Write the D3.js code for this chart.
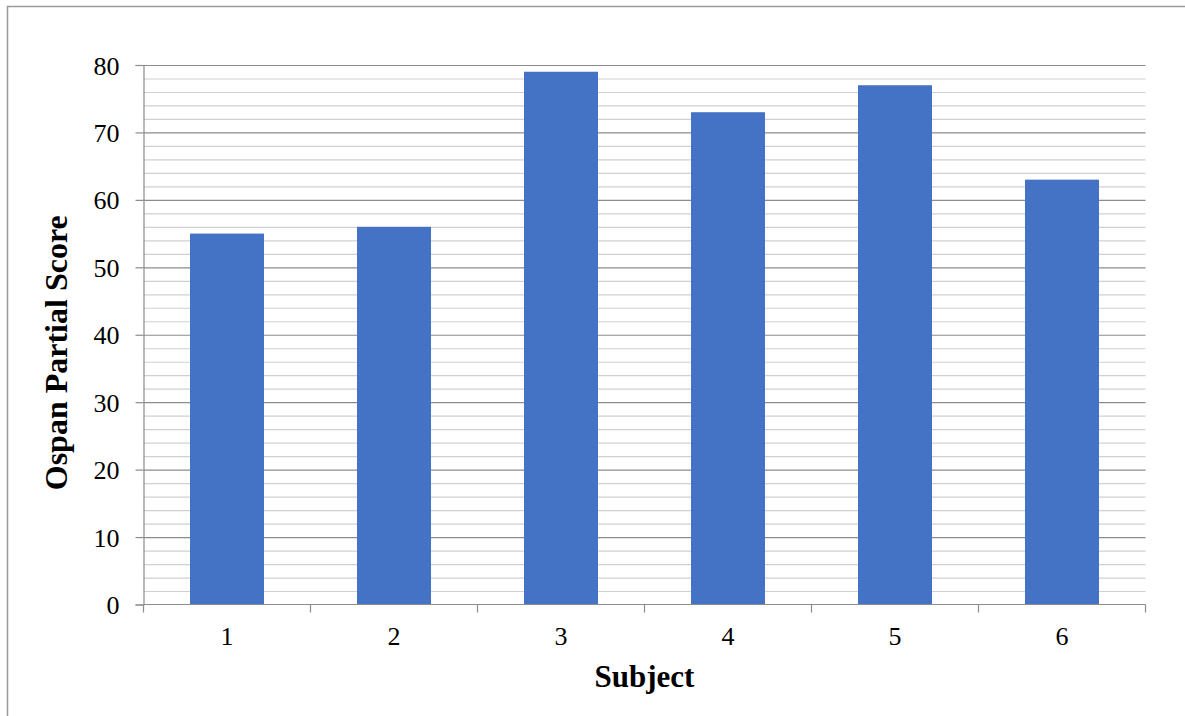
<!DOCTYPE html>
<html>
<head>
<meta charset="utf-8">
<script src="https://cdn.jsdelivr.net/npm/d3@7"></script>
<style>
  html, body { margin: 0; padding: 0; background: #fff; }
  svg { display: block; }
  text { font-family: "Liberation Serif", "Times New Roman", serif; fill: #000; }
</style>
</head>
<body>
<svg id="chart" width="1185" height="716"></svg>
<script>
const categories = ["1", "2", "3", "4", "5", "6"];
const values = [55, 56, 79, 73, 77, 63];
const majorTicks = [0, 10, 20, 30, 40, 50, 60, 70, 80];
const minorTicks = [2, 4, 6, 8, 12, 14, 16, 18, 22, 24, 26, 28, 32, 34, 36, 38, 42, 44, 46, 48, 52, 54, 56, 58, 62, 64, 66, 68, 72, 74, 76, 78];
const xTitle = "Subject";
const yTitle = "Ospan Partial Score";

const svg = d3.select("#chart");
const pLeft = 143.5, pRight = 1145.5, pTop = 65, pBottom = 604.5;

// outer frame
svg.append("rect").attr("x", 7.5).attr("y", 6.5).attr("width", 1200).attr("height", 720)
  .attr("fill", "none").attr("stroke", "#9a9a9a").attr("stroke-width", 1.5);

const x = d3.scaleBand().domain(categories).range([pLeft, pRight])
  .paddingInner(0.557).paddingOuter(0.2785);
const y = d3.scaleLinear().domain([0, 80]).range([pBottom, pTop]);

// minor gridlines
svg.append("g").attr("transform", `translate(${pLeft},0)`)
  .call(d3.axisLeft(y).tickValues(minorTicks).tickSize(-(pRight - pLeft)).tickFormat(""))
  .call(g => g.select(".domain").remove())
  .call(g => g.selectAll("line").attr("stroke", "#d0d0d0").attr("stroke-width", 1.2));

// major gridlines
svg.append("g").attr("transform", `translate(${pLeft},0)`)
  .call(d3.axisLeft(y).tickValues(majorTicks.filter(d => d > 0)).tickSize(-(pRight - pLeft)).tickFormat(""))
  .call(g => g.select(".domain").remove())
  .call(g => g.selectAll("line").attr("stroke", "#8c8c8c").attr("stroke-width", 1.2));

// bars
svg.append("g").selectAll("rect").data(values).join("rect")
  .attr("x", (d, i) => x(categories[i]))
  .attr("y", d => y(d))
  .attr("width", x.bandwidth())
  .attr("height", d => y(0) - y(d))
  .attr("fill", "#4472C4");

// y axis
svg.append("g").attr("transform", `translate(${pLeft},0)`)
  .call(d3.axisLeft(y).tickValues(majorTicks).tickSize(8).tickPadding(16).tickFormat(d3.format("d")))
  .call(g => g.select(".domain").attr("stroke", "#8c8c8c").attr("stroke-width", 1.2))
  .call(g => g.selectAll("line").attr("stroke", "#8c8c8c").attr("stroke-width", 1.2))
  .call(g => g.selectAll("text").style("font-size", "26px").style("font-family", "Liberation Serif").attr("dy", "0.35em"));

// x axis
const step = x.step();
const boundaries = d3.range(categories.length + 1).map(i => pLeft + i * step);
const xg = svg.append("g").attr("transform", `translate(0,${pBottom})`);
xg.append("line").attr("x1", pLeft).attr("x2", pRight).attr("stroke", "#8c8c8c").attr("stroke-width", 1.2);
xg.selectAll("line.tk").data(boundaries).join("line").attr("class", "tk")
  .attr("x1", d => d).attr("x2", d => d).attr("y1", 0).attr("y2", 8)
  .attr("stroke", "#8c8c8c").attr("stroke-width", 1.2);
xg.selectAll("text").data(categories).join("text")
  .attr("x", d => x(d) + x.bandwidth() / 2)
  .attr("y", 40)
  .attr("text-anchor", "middle")
  .style("font-size", "26px")
  .text(d => d);

// titles
svg.append("text").attr("x", (pLeft + pRight) / 2).attr("y", 687)
  .attr("text-anchor", "middle").style("font-size", "31px").style("font-weight", "bold").text(xTitle);
svg.append("text").attr("transform", `translate(67,${(pTop + pBottom) / 2 + 18}) rotate(-90)`)
  .attr("text-anchor", "middle").style("font-size", "32px").style("font-weight", "bold").text(yTitle);
</script>
</body>
</html>
